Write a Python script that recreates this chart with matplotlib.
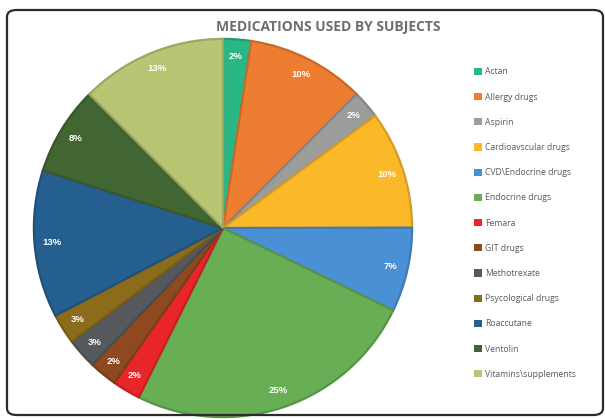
import numpy as np
import matplotlib
matplotlib.use("Agg")
import matplotlib.pyplot as plt
from matplotlib.patches import FancyBboxPatch, Patch
from matplotlib import colors as mcolors

# Chart data
medications = ['Actan', 'Allergy drugs', 'Aspirin', 'Cardioavscular drugs', 'CVD\\Endocrine drugs',
               'Endocrine drugs', 'Femara', 'GIT drugs', 'Methotrexate', 'Psycological drugs',
               'Roaccutane', 'Ventolin', 'Vitamins\\supplements']
shares = [2.4, 10.1, 2.4, 10.1, 7.2, 25.2, 2.4, 2.4, 2.6, 2.6, 12.6, 7.6, 12.5]
pct_labels = ['2%', '10%', '2%', '10%', '7%', '25%', '2%', '2%', '3%', '3%', '13%', '8%', '13%']
slice_colors = ['#2bb686', '#ed7d31', '#9b9c9c', '#fbb829', '#4a90d4', '#67ae55', '#e8262a',
                '#8e4a1e', '#55595d', '#8b6c1b', '#255f8f', '#426632', '#b9c573']

W, H = 605, 419
fig = plt.figure(figsize=(W / 100, H / 100), dpi=100)
fig.patch.set_facecolor('white')

# rounded outer frame
frame = FancyBboxPatch((7 / W, 4 / H), 596 / W, 405 / H,
                       boxstyle="round,pad=0,rounding_size=0.016",
                       transform=fig.transFigure, facecolor='none',
                       edgecolor='#2b2b2b', linewidth=1.6)
fig.patches.append(frame)

# pie axes placed in pixel terms
cx, cy, r = 223, 228, 191
ax = fig.add_axes([(cx - r) / W, (H - cy - r) / H, 2 * r / W, 2 * r / H])

edge_colors = [tuple(c * 0.85 for c in mcolors.to_rgb(col)) for col in slice_colors]
wedges, _ = ax.pie(shares, colors=slice_colors, startangle=90, counterclock=False,
                   radius=1, wedgeprops=dict(linewidth=1.6))
for w, ec in zip(wedges, edge_colors):
    w.set_edgecolor(ec)
ax.set_xlim(-1.01, 1.01)
ax.set_ylim(-1.01, 1.01)
ax.set_aspect('equal')
ax.axis('off')

# percentage labels near the rim
total = sum(shares)
start = 90.0
for val, lab in zip(shares, pct_labels):
    ang = np.deg2rad(start - val / total * 180)
    start -= val / total * 360
    ax.text(0.91 * np.cos(ang), 0.91 * np.sin(ang), lab, ha='center', va='center',
            color='white', fontsize=6.8, fontweight='bold', family='Liberation Sans')

fig.text(328 / W, 1 - 27 / H, 'MEDICATIONS USED BY SUBJECTS', ha='center', va='center',
         fontsize=10, fontweight='bold', color='#6e6e6e', family='Open Sans')

handles = [Patch(facecolor=c, edgecolor='none') for c in slice_colors]
leg = fig.legend(handles, medications, loc='upper left', bbox_to_anchor=(471 / W, 1 - 64 / H),
                 frameon=False, fontsize=6.2, handlelength=0.9, handleheight=0.9,
                 handletextpad=0.3, labelspacing=1.88, borderaxespad=0)
for t in leg.get_texts():
    t.set_color('#595959')
    t.set_family('Open Sans')

fig.savefig('out.png', dpi=100)
